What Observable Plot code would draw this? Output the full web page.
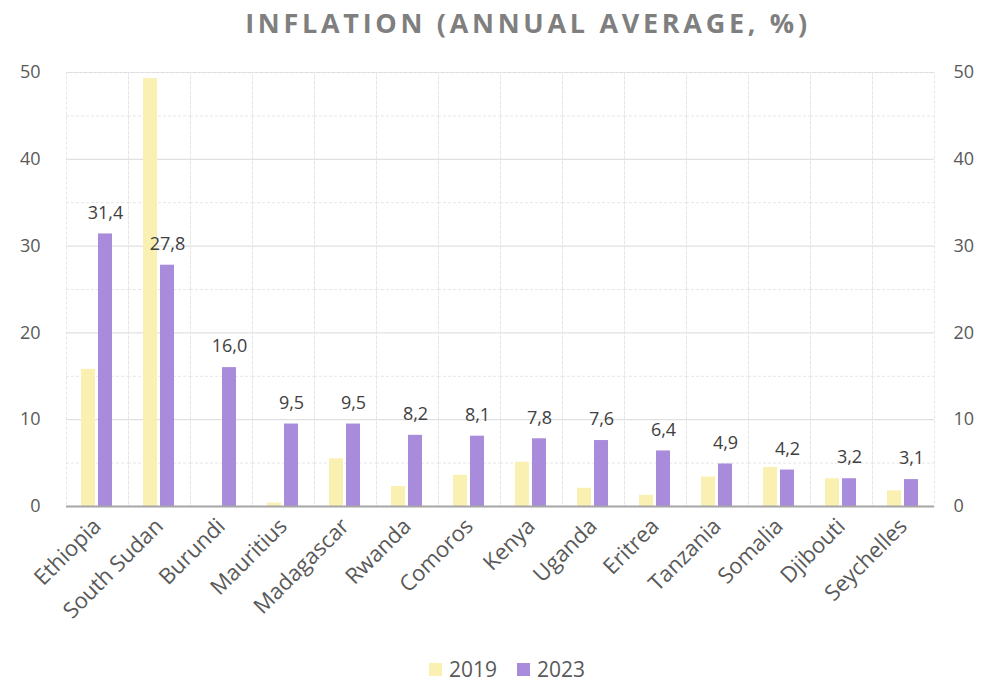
<!DOCTYPE html>
<html>
<head>
<meta charset="utf-8">
<script src="https://cdn.jsdelivr.net/npm/d3@7"></script>
<script src="https://cdn.jsdelivr.net/npm/@observablehq/plot@0.6"></script>
<style>
  html, body { margin: 0; padding: 0; background: #fff; }
  body { width: 1004px; height: 686px; overflow: hidden; font-family: "Open Sans", sans-serif; }
  #title { height: 45px; line-height: 45px; text-align: center; font-weight: 700; font-size: 27px; letter-spacing: 3.7px; color: #7f7f7f; padding-left: 52px; }
  #legend { display: flex; justify-content: center; align-items: center; gap: 20px; padding-top: 10px; font-size: 21px; color: #595959; padding-left: 10px; }
  #legend .item { display: flex; align-items: center; gap: 7px; }
  #legend .sw { width: 13px; height: 13px; display: inline-block; }
</style>
</head>
<body>
<div id="title">INFLATION (ANNUAL AVERAGE, %)</div>
<div id="chart"></div>
<div id="legend"></div>
<script>
const countries = ["Ethiopia", "South Sudan", "Burundi", "Mauritius", "Madagascar", "Rwanda", "Comoros", "Kenya", "Uganda", "Eritrea", "Tanzania", "Somalia", "Djibouti", "Seychelles"];
const values2019 = [15.8, 49.3, null, 0.4, 5.5, 2.3, 3.6, 5.1, 2.1, 1.3, 3.4, 4.5, 3.2, 1.8];
const values2023 = [31.4, 27.8, 16.0, 9.5, 9.5, 8.2, 8.1, 7.8, 7.6, 6.4, 4.9, 4.2, 3.2, 3.1];
const years = ["2019", "2023"];
const colors = ["#f9f0b2", "#a98bdb"];
const yTicks = [0, 10, 20, 30, 40, 50];
const yMinorTicks = [5, 15, 25, 35, 45];

const data = [];
countries.forEach((c, i) => {
  data.push({country: c, year: years[0], value: values2019[i]});
  data.push({country: c, year: years[1], value: values2023[i]});
});
const data2023 = data.filter(d => d.year === years[1]);
const fmt = v => v.toFixed(1).replace(".", ",");

const chart = Plot.plot({
  width: 1004,
  height: 600,
  marginTop: 27,
  marginBottom: 139,
  marginLeft: 61,
  marginRight: 66,
  style: {fontFamily: "Open Sans, sans-serif", fontSize: "18px", color: "#595959", background: "#fff"},
  fx: {domain: countries, padding: 0, label: null},
  x: {domain: years, paddingInner: 0.17, paddingOuter: 0.87, axis: null},
  y: {domain: [0, 50], axis: null},
  color: {domain: years, range: colors},
  marks: [
    Plot.gridY(yMinorTicks, {stroke: "#e6e6e6", strokeOpacity: 1, strokeDasharray: "3,2"}),
    Plot.gridY(yTicks, {stroke: "#d9d9d9", strokeOpacity: 1}),
    Plot.frame({stroke: "#e6e6e6", strokeDasharray: "3,2"}),
    Plot.barY(data, {fx: "country", x: "year", y: "value", fill: "year"}),
    Plot.ruleY([0], {stroke: "#a6a6a6", strokeWidth: 2}),
    Plot.axisY(yTicks, {anchor: "left", tickSize: 0, tickPadding: 26, label: null, fontSize: 18}),
    Plot.axisY(yTicks, {anchor: "right", tickSize: 0, tickPadding: 19, label: null, fontSize: 18}),
    Plot.axisFx({anchor: "bottom", tickRotate: -45, tickSize: 0, tickPadding: 16, label: null, fontSize: 22}),
    Plot.text(data2023, {fx: "country", x: "year", y: "value", text: d => fmt(d.value), dy: -21, fill: "#404040", fontSize: 18})
  ]
});
document.getElementById("chart").appendChild(chart);

const legend = document.getElementById("legend");
years.forEach((y, i) => {
  const item = document.createElement("div");
  item.className = "item";
  const sw = document.createElement("span");
  sw.className = "sw";
  sw.style.background = colors[i];
  const t = document.createElement("span");
  t.textContent = y;
  item.appendChild(sw);
  item.appendChild(t);
  legend.appendChild(item);
});
</script>
</body>
</html>
